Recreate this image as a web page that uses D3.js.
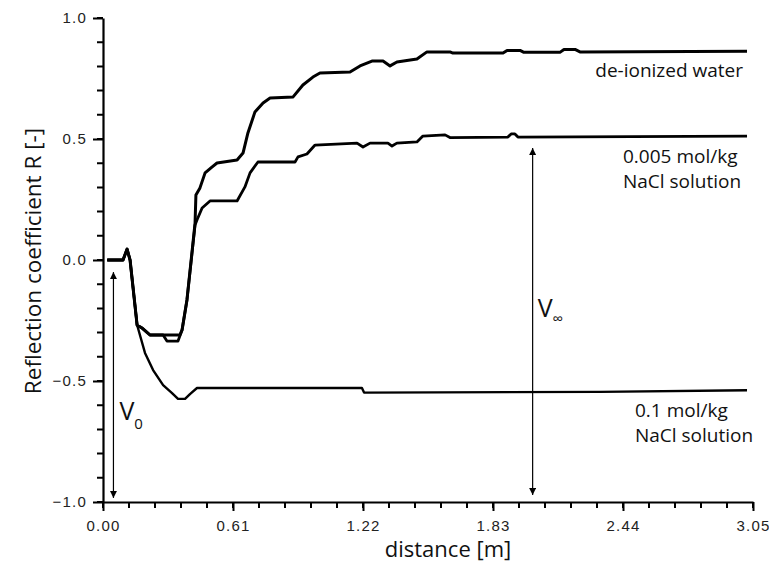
<!DOCTYPE html>
<html>
<head>
<meta charset="utf-8">
<script src="https://cdnjs.cloudflare.com/ajax/libs/d3/7.8.5/d3.min.js"></script>
<style>
  body { margin: 0; background: #fff; }
  svg { display: block; }
</style>
</head>
<body>
<div id="chart"></div>
<script>
// curves: [distance m, R]
var deionized = [
    [0.02, 0], [0.094, 0], [0.113, 0.045], [0.127, 0], [0.160, -0.269], [0.183, -0.281],
    [0.221, -0.310], [0.361, -0.310], [0.371, -0.289], [0.394, -0.165], [0.432, 0.153],
    [0.436, 0.269], [0.455, 0.298], [0.479, 0.360], [0.511, 0.384], [0.535, 0.401],
    [0.629, 0.413], [0.657, 0.442], [0.680, 0.525], [0.713, 0.612], [0.751, 0.649],
    [0.784, 0.669], [0.892, 0.674], [0.938, 0.723], [0.985, 0.756], [1.018, 0.773],
    [1.159, 0.777], [1.206, 0.802], [1.262, 0.822], [1.314, 0.822], [1.347, 0.802],
    [1.379, 0.818], [1.473, 0.831], [1.520, 0.860], [1.628, 0.860], [1.642, 0.855],
    [1.877, 0.855], [1.896, 0.866], [1.957, 0.866], [1.975, 0.858], [2.144, 0.858],
    [2.163, 0.870], [2.215, 0.870], [2.238, 0.860], [3.022, 0.863]
];
var nacl005 = [
    [0.02, 0], [0.094, 0], [0.113, 0.045], [0.127, 0], [0.160, -0.269], [0.183, -0.281],
    [0.221, -0.310], [0.282, -0.310], [0.300, -0.335], [0.352, -0.335], [0.371, -0.289],
    [0.394, -0.165], [0.432, 0.145], [0.441, 0.165], [0.465, 0.215], [0.502, 0.244],
    [0.629, 0.244], [0.666, 0.302], [0.690, 0.360], [0.727, 0.405], [0.901, 0.405],
    [0.915, 0.426], [0.957, 0.438], [0.995, 0.475], [1.192, 0.483], [1.220, 0.467],
    [1.253, 0.483], [1.337, 0.483], [1.356, 0.471], [1.379, 0.483], [1.473, 0.488],
    [1.501, 0.512], [1.605, 0.517], [1.628, 0.506], [1.900, 0.508], [1.915, 0.521],
    [1.933, 0.521], [1.947, 0.508], [3.022, 0.512]
];
var nacl01 = [
    [0.02, 0], [0.094, 0], [0.113, 0.045], [0.127, 0], [0.160, -0.269], [0.164, -0.281],
    [0.197, -0.384], [0.235, -0.455], [0.282, -0.517], [0.324, -0.550], [0.352, -0.574],
    [0.385, -0.574], [0.408, -0.554], [0.441, -0.529], [1.215, -0.529], [1.225, -0.548],
    [2.332, -0.545], [3.022, -0.538]
];

var xTicks = [0, 0.61, 1.22, 1.83, 2.44, 3.05];
var yTicks = [-1.0, -0.5, 0.0, 0.5, 1.0];

// double arrows: distance, R top, R bottom
var arrows = [
    { name: 'V', sub: '0', d: 0.049, top: -0.05, bottom: -0.983 },
    { name: 'V', sub: '\u221e', d: 2.016, top: 0.463, bottom: -0.971 }
];

var width = 769, height = 564;
var margin = { left: 103, right: 16, top: 18, bottom: 62 };

var svg = d3.select('#chart').append('svg')
    .attr('width', width)
    .attr('height', height);

var x = d3.scaleLinear().domain([0, 3.05]).range([margin.left, width - margin.right]);
var y = d3.scaleLinear().domain([-1, 1]).range([height - margin.bottom, margin.top]);

var tickFont = '"Liberation Sans", Arial, sans-serif';
var textFont = '"Open Sans", "Noto Sans", sans-serif';

// minor ticks, every fifth of a labelled step
var xMinor = d3.range(0, 26).map(function (i) { return i * 0.122; });
var yMinor = d3.range(-10, 11).map(function (i) { return i / 10; });

var minorPath = '';
xMinor.forEach(function (d) {
    minorPath += 'M' + x(d) + ',' + y(-1) + 'v6';
});
yMinor.forEach(function (d) {
    minorPath += 'M' + x(0) + ',' + y(d) + 'h-6';
});
svg.append('path')
    .attr('d', minorPath)
    .attr('fill', 'none')
    .attr('stroke', '#000')
    .attr('stroke-width', 2);

var xAxis = svg.append('g')
    .attr('transform', 'translate(0,' + y(-1) + ')')
    .call(d3.axisBottom(x).tickValues(xTicks).tickSize(9).tickSizeOuter(0).tickPadding(9)
        .tickFormat(d3.format('.2f')));

var yAxis = svg.append('g')
    .attr('transform', 'translate(' + x(0) + ',0)')
    .call(d3.axisLeft(y).tickValues(yTicks).tickSize(10).tickSizeOuter(0).tickPadding(6)
        .tickFormat(d3.format('.1f')));

[xAxis, yAxis].forEach(function (g) {
    g.select('.domain').attr('stroke', '#000').attr('stroke-width', 2.2);
    g.selectAll('.tick line').attr('stroke', '#000').attr('stroke-width', 2);
    g.selectAll('.tick text')
        .attr('fill', '#222')
        .style('font-family', tickFont)
        .style('font-size', '15px')
        .style('letter-spacing', '1.2px');
});

// curves
var line = d3.line()
    .x(function (d) { return x(d[0]); })
    .y(function (d) { return y(d[1]); });

[[nacl01, 2.4], [nacl005, 2.8], [deionized, 3]].forEach(function (c) {
    svg.append('path')
        .datum(c[0])
        .attr('d', line)
        .attr('fill', 'none')
        .attr('stroke', '#000')
        .attr('stroke-width', c[1])
        .attr('stroke-linejoin', 'round');
});

// arrows
var defs = svg.append('defs');
defs.append('marker')
    .attr('id', 'head')
    .attr('viewBox', '0 0 10 10')
    .attr('refX', 10).attr('refY', 5)
    .attr('markerWidth', 8).attr('markerHeight', 7)
    .attr('markerUnits', 'userSpaceOnUse')
    .attr('orient', 'auto-start-reverse')
    .append('path')
    .attr('d', 'M0,0 L10,5 L0,10 Z')
    .attr('fill', '#000');

arrows.forEach(function (a) {
    svg.append('line')
        .attr('x1', x(a.d)).attr('x2', x(a.d))
        .attr('y1', y(a.top)).attr('y2', y(a.bottom))
        .attr('stroke', '#000')
        .attr('stroke-width', 1.2)
        .attr('marker-start', 'url(#head)')
        .attr('marker-end', 'url(#head)');
});

var v0 = svg.append('text')
    .attr('x', x(arrows[0].d) + 6)
    .attr('y', 420)
    .attr('fill', '#111')
    .style('font-family', textFont)
    .style('font-size', '25px');
v0.append('tspan').text(arrows[0].name);
v0.append('tspan').attr('dy', 9).style('font-size', '15px').text(arrows[0].sub);

var vinf = svg.append('text')
    .attr('x', x(arrows[1].d) + 5)
    .attr('y', 317)
    .attr('fill', '#111')
    .style('font-family', textFont)
    .style('font-size', '25px');
vinf.append('tspan').text(arrows[1].name);
vinf.append('tspan').attr('dy', 7).style('font-size', '15px').text(arrows[1].sub);

// curve labels
var labels = [
    { lines: ['de-ionized water'], x: 743, y: 77, anchor: 'end' },
    { lines: ['0.005 mol/kg', 'NaCl solution'], x: 623, y: 163, anchor: 'start' },
    { lines: ['0.1 mol/kg', 'NaCl solution'], x: 635, y: 417, anchor: 'start' }
];
labels.forEach(function (l) {
    l.lines.forEach(function (t, i) {
        svg.append('text')
            .attr('x', l.x)
            .attr('y', l.y + i * 24.5)
            .attr('text-anchor', l.anchor)
            .attr('fill', '#111')
            .style('font-family', textFont)
            .style('font-size', '19px')
            .text(t);
    });
});

// axis titles
svg.append('text')
    .attr('x', 448)
    .attr('y', 557)
    .attr('text-anchor', 'middle')
    .attr('fill', '#111')
    .style('font-family', textFont)
    .style('font-size', '22px')
    .text('distance [m]');

svg.append('text')
    .attr('transform', 'translate(41,261) rotate(-90)')
    .attr('text-anchor', 'middle')
    .attr('fill', '#111')
    .style('font-family', textFont)
    .style('font-size', '22.5px')
    .text('Reflection coefficient R [-]');
</script>
</body>
</html>
